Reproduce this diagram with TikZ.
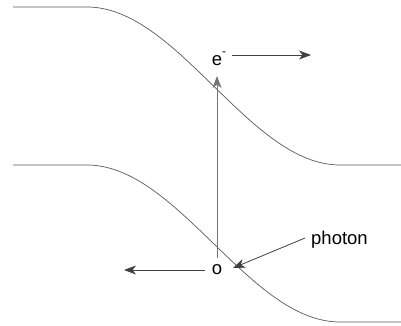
\documentclass[tikz,border=0pt]{standalone}
\usepackage{fontspec}
\setmainfont{Liberation Sans}
\usetikzlibrary{arrows.meta}
\begin{document}
\begin{tikzpicture}[x=1pt,y=-1pt,
  band/.style={draw=black!65, line width=0.7pt},
  arr/.style={draw=black!75, line width=0.8pt, -{Stealth[length=12pt,width=9pt,inset=3.5pt]}},
  lbl/.style={inner sep=0pt, font=\fontsize{18.5}{21}\selectfont}]
\useasboundingbox (0,0) rectangle (401,326);
% bands
\draw[band] (13,7) -- (87,7) .. controls (178,7) and (249,165) .. (340,165) -- (401,165);
\draw[band] (13,165) -- (87,165) .. controls (178,165) and (249,322) .. (340,322) -- (401,322);
% labels
\node[lbl] (e) at (219,59) {e\raisebox{0.55em}{\fontsize{12}{13}\selectfont -}};
\node[lbl] (o) at (217,270) {o};
\node[lbl, anchor=west] (ph) at (311,240) {photon};
% connector endpoints
\coordinate (up) at (217,76);
\coordinate (eR) at (311,55);
\coordinate (oL) at (124,270);
\draw[arr, draw=black!55] (217,258) -- (up);
\draw[arr] (232,55) -- (eR);
\draw[arr] (205,270) -- (oL);
\draw[arr] (ph.west) ++(-6,-2) -- (233,268);
\end{tikzpicture}
\end{document}
